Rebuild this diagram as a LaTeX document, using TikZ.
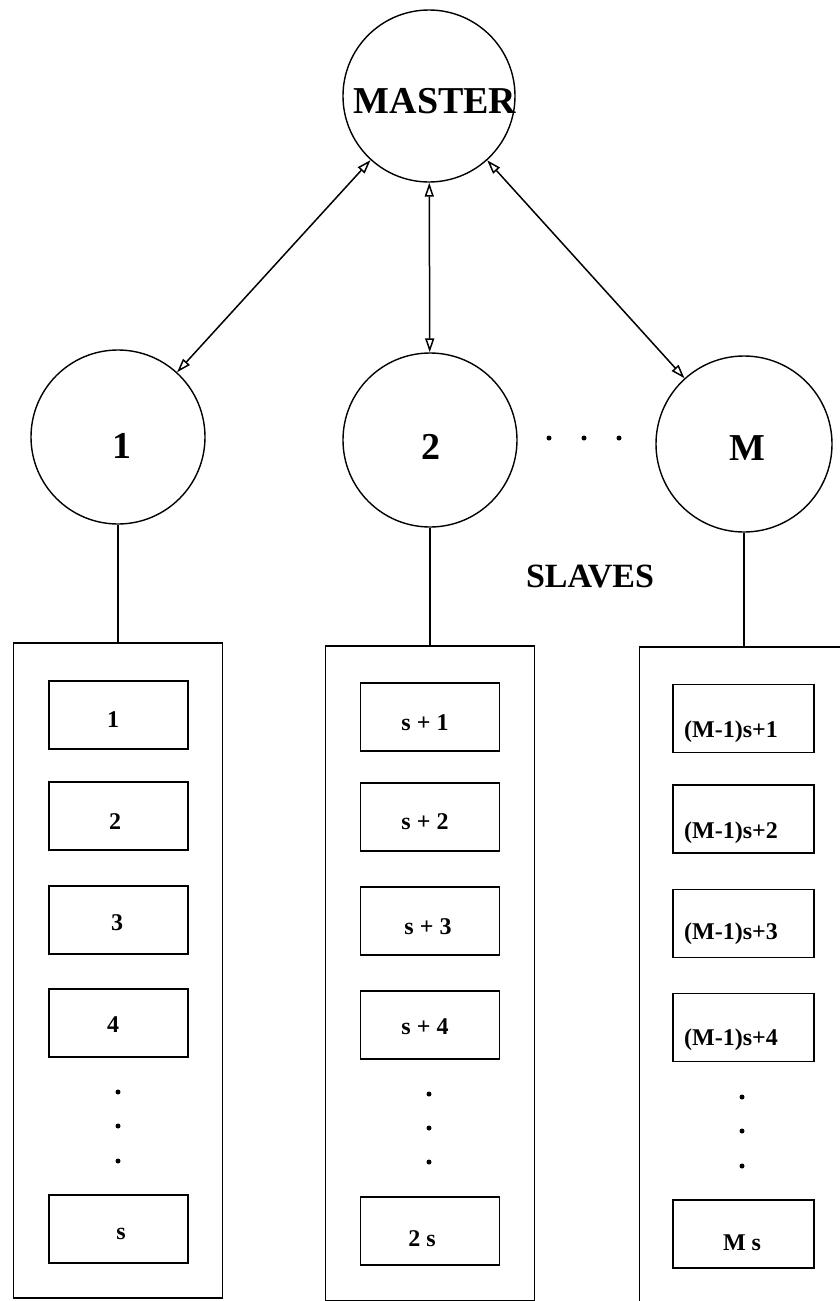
\documentclass[tikz,border=0pt]{standalone}
\usepackage{fontspec}
\setmainfont{Liberation Serif}
\usetikzlibrary{arrows.meta}
\begin{document}
\begin{tikzpicture}[x=1pt,y=-1pt,
  ring/.style={draw,circle,line width=1.4pt,inner sep=0pt},
  big/.style={font=\fontsize{38}{40}\selectfont\bfseries,inner sep=0pt},
  mid/.style={font=\fontsize{34}{36}\selectfont\bfseries,inner sep=0pt},
  cell/.style={draw,line width=1.5pt,minimum width=139pt,minimum height=68pt,inner sep=0pt},
  celltxt/.style={font=\fontsize{24}{26}\selectfont\bfseries,inner sep=0pt},
  column/.style={draw,line width=1.5pt,minimum width=209pt,inner sep=0pt},
  link/.style={line width=1.5pt,{Triangle[open,length=14pt,width=9pt]}-{Triangle[open,length=14pt,width=9pt]}},
  wire/.style={line width=1.4pt},
  dot/.style={circle,fill,inner sep=0pt,minimum size=5pt}]
\useasboundingbox (0,0) rectangle (840,1301);

% master and slaves
\node[ring,minimum size=172pt] (master) at (429,96) {};
\node[big] (mastertxt) at (435,101) {MASTER};
\node[ring,minimum size=174pt] (s1) at (118,437) {};
\node[ring,minimum size=174pt] (s2) at (430,440) {};
\node[ring,minimum size=176pt] (sM) at (744,444) {};
\node[big] (s1t) at (122,446) {1};
\node[big] (s2t) at (431,447) {2};
\node[big] (sMt) at (747,448) {M};
\node[mid] (slaves) at (590,576) {SLAVES};

% ellipsis between slave 2 and slave M
\node[dot] (e1) at (549,438) {};
\node[dot] (e2) at (584,438) {};
\node[dot] (e3) at (619,438) {};

% two-way links
\draw[link] (master) -- (s1);
\draw[link] (master) -- (s2);
\draw[link] (master) -- (sM);

% task columns
\node[column,minimum height=655pt] (c1) at (118,970.5) {};
\node[column,minimum height=655pt] (c2) at (430,973.5) {};
\node[column,minimum height=656pt] (c3) at (744,975) {};
\draw[wire] (s1.south) -- (c1.north);
\draw[wire] (s2.south) -- (c2.north);
\draw[wire] (sM.south) -- (c3.north);

% column 1
\node[cell] (a1) at (118.5,715) {};
\node[cell] (a2) at (118.5,816) {};
\node[cell] (a3) at (118.5,920) {};
\node[cell] (a4) at (118.5,1023) {};
\node[cell] (as) at (118.5,1229) {};
\node[celltxt] (a1t) at (113,720) {1};
\node[celltxt] (a2t) at (115,822) {2};
\node[celltxt] (a3t) at (117,923) {3};
\node[celltxt] (a4t) at (113,1025) {4};
\node[celltxt] (ast) at (121,1234) {s};
\node[dot] (ad1) at (118,1092) {};
\node[dot] (ad2) at (118,1126) {};
\node[dot] (ad3) at (118,1161) {};

% column 2
\node[cell] (b1) at (430,717) {};
\node[cell] (b2) at (430,817) {};
\node[cell] (b3) at (430,921) {};
\node[cell] (b4) at (430,1025) {};
\node[cell] (bs) at (430,1231) {};
\node[celltxt] (b1t) at (425,723) {s + 1};
\node[celltxt] (b2t) at (425,822) {s + 2};
\node[celltxt] (b3t) at (428,927) {s + 3};
\node[celltxt] (b4t) at (425,1027) {s + 4};
\node[celltxt] (bst) at (422,1239) {2 s};
\node[dot] (bd1) at (429,1094) {};
\node[dot] (bd2) at (429,1128) {};
\node[dot] (bd3) at (429,1162) {};

% column M
\node[cell,minimum width=141pt] (m1) at (743.5,718.5) {};
\node[cell,minimum width=141pt] (m2) at (743.5,819) {};
\node[cell,minimum width=141pt] (m3) at (743.5,923.5) {};
\node[cell,minimum width=141pt] (m4) at (743.5,1027.5) {};
\node[cell,minimum width=141pt] (ms) at (743.5,1234) {};
\node[celltxt] (m1t) at (731,732) {(M-1)s+1};
\node[celltxt] (m2t) at (731,833) {(M-1)s+2};
\node[celltxt] (m3t) at (731,934) {(M-1)s+3};
\node[celltxt] (m4t) at (731,1040) {(M-1)s+4};
\node[celltxt] (mst) at (742,1243) {M s};
\node[dot] (md1) at (742,1097) {};
\node[dot] (md2) at (742,1131) {};
\node[dot] (md3) at (742,1166) {};
\end{tikzpicture}
\end{document}
